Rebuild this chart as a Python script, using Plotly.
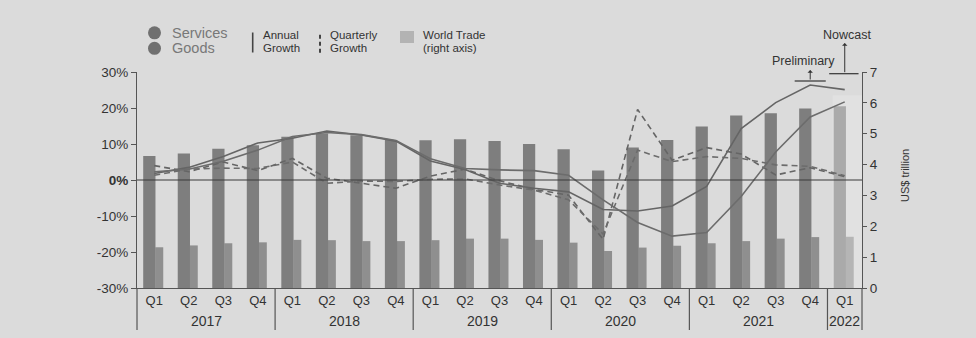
import plotly.graph_objects as go

# ---- data -------------------------------------------------------------
quarters = ["Q1", "Q2", "Q3", "Q4"] * 5 + ["Q1"]
years = ["2017"] * 4 + ["2018"] * 4 + ["2019"] * 4 + ["2020"] * 4 + ["2021"] * 4 + ["2022"]

# quarterly trade value, US$ trillion (right axis)
goods_trade = [4.28, 4.36, 4.51, 4.63, 4.90, 5.01, 4.95, 4.80, 4.79, 4.82, 4.76,
               4.67, 4.50, 3.81, 4.55, 4.80, 5.23, 5.59, 5.66, 5.82, 5.89]
services_trade = [1.32, 1.38, 1.45, 1.48, 1.56, 1.55, 1.52, 1.52, 1.55, 1.60, 1.60,
                  1.56, 1.47, 1.20, 1.31, 1.37, 1.45, 1.52, 1.60, 1.65, 1.66]

# growth rates, % (left axis)
goods_annual = [1.8, 3.5, 6.5, 10.3, 11.6, 13.6, 12.5, 10.8, 5.3, 2.9, -0.9,
                -2.3, -3.3, -8.2, -8.6, -7.2, -1.8, 14.3, 21.5, 26.4, 25.1]
services_annual = [2.3, 3.0, 5.2, 8.3, 12.1, 13.2, 12.6, 11.0, 5.9, 3.2, 2.8,
                   2.6, 1.3, -5.5, -11.8, -15.6, -14.6, -4.6, 7.8, 17.5, 21.7]
goods_quarterly = [4.0, 2.3, 5.0, 2.6, 6.0, 0.5, -0.9, -2.3, 1.1, 3.0, -0.2,
                   -2.6, -4.2, -16.5, 19.6, 5.5, 9.0, 7.2, 1.4, 3.4, 0.9]
services_quarterly = [1.3, 3.0, 3.3, 3.2, 5.0, -0.9, -0.3, -0.4, 0.2, 0.3, -1.4,
                      -2.8, -5.5, -15.0, 8.3, 5.1, 6.5, 6.0, 4.2, 3.8, 1.2]

pct_ticks = [-30, -20, -10, 0, 10, 20, 30]
pct_labels = ["-30%", "-20%", "-10%", "<b>0%</b>", "10%", "20%", "30%"]
trillion_ticks = [0, 1, 2, 3, 4, 5, 6, 7]

# ---- page geometry ---------------------------------------------------
W, H = 976, 338
L, R, T, B = 137, 114, 72, 50
PW, PH = W - L - R, H - T - B
FONT = "Liberation Sans, Arial, Helvetica, sans-serif"
BG = "#dbdbdb"
TXT = "#333333"
AXIS = "#555555"
LINE = "#656565"


def fx(px):
    """pixel x -> paper x"""
    return (px - L) / PW


def fy(py):
    """pixel y -> paper y"""
    return (H - B - py) / PH


n = len(quarters)
x = list(range(n))
nowcast = [y == "2022" for y in years]
goods_col = ["#aaaaaa" if f else "#7e7e7e" for f in nowcast]
serv_col = ["#b5b5b5" if f else "#8f8f8f" for f in nowcast]

fig = go.Figure()

# trade values (bars) on the right-hand axis
fig.add_trace(go.Bar(x=x, y=services_trade, yaxis="y", marker=dict(color=serv_col, line_width=0),
                     offset=0.03, width=0.23, name="Services trade"))
fig.add_trace(go.Bar(x=x, y=goods_trade, yaxis="y", marker=dict(color=goods_col, line_width=0),
                     offset=-0.32, width=0.355, name="Goods trade"))

# growth lines on the left-hand axis
for vals, dash, col in [(goods_quarterly, "6px,4px", LINE), (services_quarterly, "6px,4px", "#6c6c6c"),
                        (goods_annual, "solid", LINE), (services_annual, "solid", "#6c6c6c")]:
    fig.add_trace(go.Scatter(x=x, y=vals, yaxis="y2", mode="lines",
                             line=dict(color=col, width=1.6, dash=dash), showlegend=False))

shapes = []
annotations = []

# zero line
shapes.append(dict(type="line", xref="paper", yref="y2", x0=0, x1=1, y0=0, y1=0,
                   line=dict(color="#3a3a3a", width=1.2), layer="above"))

# lighter column behind the nowcast quarter
shapes.append(dict(type="rect", xref="x", yref="y", x0=n - 1.35, x1=n - 0.5, y0=0, y1=6.25,
                   fillcolor="rgba(255,255,255,0.18)", line_width=0, layer="below"))

# year separators below the axis
bounds = [-0.5] + [i + 0.5 for i in range(n - 1) if years[i] != years[i + 1]] + [n - 0.5]
for b in bounds:
    xp = (b + 0.5) / n
    shapes.append(dict(type="line", xref="paper", yref="paper", x0=xp, x1=xp,
                       y0=fy(330), y1=0, line=dict(color=AXIS, width=1.2)))

# year labels
for yr in dict.fromkeys(years):
    idx = [i for i, v in enumerate(years) if v == yr]
    annotations.append(dict(x=sum(idx) / len(idx), xref="x", y=fy(321), yref="paper",
                            text=yr, showarrow=False, xanchor="center", yanchor="middle",
                            font=dict(size=14, color=TXT, family=FONT)))

# right-axis title
annotations.append(dict(x=fx(905), y=fy(176), xref="paper", yref="paper", text="US$ trillion",
                        textangle=-90, showarrow=False, xanchor="center", yanchor="middle",
                        font=dict(size=11, color=TXT,
                                  family="Liberation Sans Narrow, Arial Narrow, " + FONT)))

# Preliminary / Nowcast markers
shapes.append(dict(type="line", xref="x", yref="paper", x0=n - 2.45, x1=n - 1.55,
                   y0=fy(81), y1=fy(81), line=dict(color="#333", width=1.2)))
shapes.append(dict(type="line", xref="x", yref="paper", x0=n - 1.45, x1=n - 0.6,
                   y0=fy(73.7), y1=fy(73.7), line=dict(color="#333", width=1.2)))
annotations.append(dict(x=n - 2, xref="x", y=fy(70), yref="paper", text="", showarrow=True,
                        ax=0, ay=11, arrowhead=1, arrowsize=0.9, arrowwidth=1, arrowcolor="#333"))
annotations.append(dict(x=n - 1, xref="x", y=fy(43), yref="paper", text="", showarrow=True,
                        ax=0, ay=30.7, arrowhead=1, arrowsize=0.9, arrowwidth=1, arrowcolor="#333"))
annotations.append(dict(x=fx(803), y=fy(60.7), xref="paper", yref="paper", text="Preliminary",
                        showarrow=False, xanchor="center", yanchor="middle",
                        font=dict(size=12.5, color=TXT, family=FONT)))
annotations.append(dict(x=fx(847), y=fy(35), xref="paper", yref="paper", text="Nowcast",
                        showarrow=False, xanchor="center", yanchor="middle",
                        font=dict(size=12.5, color=TXT, family=FONT)))

# legend (hand-built)
for cy, label in [(32.8, "Services"), (48.3, "Goods")]:
    shapes.append(dict(type="circle", xref="paper", yref="paper", x0=fx(148), x1=fx(161),
                       y0=fy(cy + 6.5), y1=fy(cy - 6.5), fillcolor="#707070", line_width=0))
    annotations.append(dict(x=fx(170), y=fy(cy), xref="paper", yref="paper", text=label,
                            xanchor="left", yanchor="middle", showarrow=False,
                            font=dict(size=14.5, color="#787878", family=FONT)))
shapes.append(dict(type="line", xref="paper", yref="paper", x0=fx(252.7), x1=fx(252.7),
                   y0=fy(52.5), y1=fy(32.5), line=dict(color="#444", width=1.6)))
shapes.append(dict(type="line", xref="paper", yref="paper", x0=fx(320), x1=fx(320),
                   y0=fy(52.7), y1=fy(31.7), line=dict(color="#444", width=2, dash="4px,3px")))
shapes.append(dict(type="rect", xref="paper", yref="paper", x0=fx(400), x1=fx(414),
                   y0=fy(43), y1=fy(31), fillcolor="#b3b3b3", line_width=0))
for lx, top, bottom in [(261, "Annual", "Growth"), (328, "Quarterly", "Growth"),
                        (421, "World Trade", "(right axis)")]:
    for ly, t in [(34.8, top), (48.3, bottom)]:
        annotations.append(dict(x=fx(lx), y=fy(ly), xref="paper", yref="paper", text=t,
                                xanchor="left", yanchor="middle", showarrow=False,
                                font=dict(size=11.5, color=TXT, family=FONT)))

fig.update_layout(
    width=W, height=H,
    margin=dict(l=L, r=R, t=T, b=B, pad=0),
    paper_bgcolor=BG, plot_bgcolor=BG,
    barmode="overlay", showlegend=False,
    font=dict(family=FONT, color=TXT),
    shapes=shapes, annotations=annotations,
    xaxis=dict(range=[-0.5, n - 0.5], tickvals=x, ticktext=quarters, showgrid=False,
               zeroline=False, showline=True, linecolor=AXIS, linewidth=1.2, ticks="",
               tickfont=dict(size=13, color=TXT, family=FONT)),
    yaxis=dict(side="right", range=[0, 7], tickvals=trillion_ticks, showgrid=False,
               zeroline=False, showline=True, linecolor=AXIS, linewidth=1.2, ticks="outside",
               ticklen=4, tickcolor=AXIS, tickfont=dict(size=13.5, color=TXT, family=FONT)),
    yaxis2=dict(overlaying="y", side="left", range=[-30, 30], tickvals=pct_ticks,
                ticktext=pct_labels, showgrid=False, zeroline=False, showline=True,
                linecolor=AXIS, linewidth=1.2, ticks="outside", ticklen=5, tickcolor=AXIS,
                tickfont=dict(size=13.5, color=TXT, family=FONT)),
)

fig.write_html("out.html")
